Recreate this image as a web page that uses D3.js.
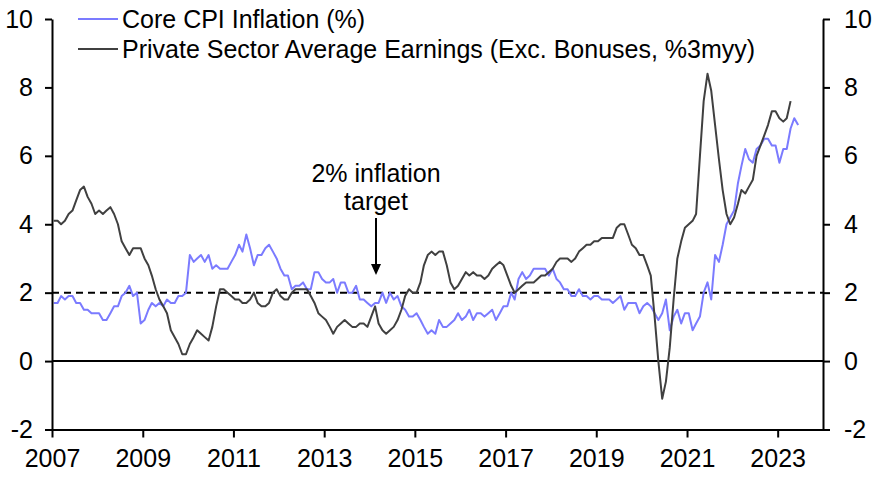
<!DOCTYPE html>
<html>
<head>
<meta charset="utf-8">
<script src="https://cdn.jsdelivr.net/npm/d3@7"></script>
<style>
  body { margin: 0; background: #fff; }
  text { font-family: "Liberation Sans", Arial, sans-serif; fill: #000; }
</style>
</head>
<body>
<div id="chart"></div>
<script>
// Monthly data, Jan 2007 onward
const startYear = 2007;
const coreCpi = [
  1.7, 1.7, 1.9, 1.8, 1.9, 1.9, 1.7, 1.7, 1.5, 1.5, 1.4, 1.4,
  1.4, 1.2, 1.2, 1.4, 1.6, 1.6, 1.9, 2.0, 2.2, 1.9, 2.0, 1.1,
  1.2, 1.5, 1.7, 1.6, 1.7, 1.6, 1.8, 1.7, 1.7, 1.9, 1.9, 2.0,
  3.1, 2.9, 3.0, 3.1, 2.9, 3.1, 2.7, 2.8, 2.7, 2.7, 2.7, 2.9,
  3.1, 3.4, 3.2, 3.7, 3.3, 2.8, 3.1, 3.1, 3.3, 3.4, 3.2, 3.0,
  2.7, 2.5, 2.5, 2.1, 2.2, 2.2, 2.3, 2.1, 2.1, 2.6, 2.6, 2.4,
  2.3, 2.3, 2.4, 2.0, 2.3, 2.3, 2.0, 2.0, 2.2, 1.8, 1.8, 1.7,
  1.6, 1.7, 1.7, 2.0, 1.7, 2.0, 1.8, 1.9, 1.6, 1.5, 1.3, 1.3,
  1.4, 1.2, 1.0, 0.8, 0.9, 0.8, 1.2, 1.0, 1.0, 1.1, 1.2, 1.4,
  1.2, 1.3, 1.5, 1.2, 1.4, 1.4, 1.3, 1.4, 1.5, 1.2, 1.4, 1.6,
  1.6, 2.0, 1.8, 2.4, 2.6, 2.4, 2.5, 2.7, 2.7, 2.7, 2.7, 2.5,
  2.7, 2.4, 2.3, 2.1, 2.1, 1.9, 1.9, 2.1, 1.9, 1.9, 1.8, 1.9,
  1.9, 1.8, 1.8, 1.8, 1.7, 1.8, 1.9, 1.5, 1.7, 1.7, 1.7, 1.4,
  1.6, 1.7, 1.6, 1.4, 1.2, 1.4, 1.8, 0.9, 1.3, 1.5, 1.1, 1.4,
  1.4, 0.9, 1.1, 1.3, 2.0, 2.3, 1.8, 3.1, 2.9, 3.4, 4.0, 4.2,
  4.4, 5.2, 5.7, 6.2, 5.9, 5.8, 6.2, 6.3, 6.5, 6.5, 6.3, 6.3,
  5.8, 6.2, 6.2, 6.8, 7.1, 6.9
];
const privatePay = [
  4.1, 4.1, 4.0, 4.1, 4.3, 4.4, 4.7, 5.0, 5.1, 4.8, 4.6, 4.3,
  4.4, 4.3, 4.4, 4.5, 4.3, 4.0, 3.5, 3.3, 3.1, 3.3, 3.3, 3.3,
  3.0, 2.8, 2.5, 2.1, 1.8, 1.6, 1.4, 0.9, 0.7, 0.5, 0.2, 0.2,
  0.5, 0.7, 0.9, 0.8, 0.7, 0.6, 1.0, 1.6, 2.1, 2.1, 2.0, 1.9,
  1.8, 1.8, 1.7, 1.7, 1.8, 2.0, 1.7, 1.6, 1.6, 1.7, 2.0, 2.1,
  1.9, 1.8, 1.8, 2.0, 2.1, 2.1, 2.1, 2.1, 1.9, 1.7, 1.4, 1.3,
  1.2, 1.0, 0.8, 1.0, 1.1, 1.2, 1.1, 1.0, 1.0, 1.1, 1.1, 1.0,
  1.3, 1.6, 1.1, 0.9, 0.8, 0.9, 1.0, 1.2, 1.5, 1.9, 2.1, 2.0,
  2.0, 2.3, 2.8, 3.1, 3.2, 3.1, 3.2, 3.2, 2.8, 2.3, 2.1, 2.2,
  2.4, 2.6, 2.5, 2.6, 2.5, 2.5, 2.4, 2.5, 2.7, 2.8, 2.9, 2.8,
  2.5, 2.2, 2.0, 2.1, 2.2, 2.3, 2.3, 2.3, 2.4, 2.5, 2.5, 2.6,
  2.7, 2.9, 3.0, 3.0, 3.0, 2.9, 3.0, 3.2, 3.3, 3.4, 3.4, 3.5,
  3.5, 3.6, 3.6, 3.6, 3.6, 3.9, 4.0, 4.0, 3.7, 3.4, 3.3, 3.1,
  3.1, 2.8, 2.5, 1.3, 0.0, -1.1, -0.6, 0.4, 1.8, 3.0, 3.5, 3.9,
  4.0, 4.1, 4.3, 6.0, 7.6, 8.4, 7.9, 6.9, 5.9, 5.0, 4.3, 4.0,
  4.2, 4.6, 5.0, 4.9, 5.1, 5.3, 6.0, 6.3, 6.6, 6.9, 7.3, 7.3,
  7.1, 7.0, 7.1, 7.6
];
const yTicks = [-2, 0, 2, 4, 6, 8, 10];
const xTickYears = [2007, 2009, 2011, 2013, 2015, 2017, 2019, 2021, 2023];
const seriesNames = ["Core CPI Inflation (%)", "Private Sector Average Earnings (Exc. Bonuses, %3myy)"];
const seriesColors = ["#7b7bff", "#404040"];
const targetLevel = 2;

const width = 876, height = 479;
const plotLeft = 52, plotRight = 823, plotTop = 19, plotBottom = 429.5;
const fontSize = 25;

const svg = d3.select("#chart").append("svg")
    .attr("width", width)
    .attr("height", height);

const x = d3.scaleTime()
    .domain([new Date(2007, 0, 1), new Date(2024, 0, 1)])
    .range([plotLeft, plotRight]);
const y = d3.scaleLinear().domain([-2, 10]).range([plotBottom, plotTop]);

const toPoints = vals => vals.map((v, i) => ({date: new Date(startYear, i, 15), value: v}));

// Zero line and 2% target line
svg.append("line")
    .attr("x1", plotLeft).attr("x2", plotRight)
    .attr("y1", y(0)).attr("y2", y(0))
    .attr("stroke", "#000").attr("stroke-width", 2);
svg.append("line")
    .attr("x1", plotLeft).attr("x2", plotRight)
    .attr("y1", y(targetLevel)).attr("y2", y(targetLevel))
    .attr("stroke", "#000").attr("stroke-width", 2)
    .attr("stroke-dasharray", "7,5");

const line = d3.line().x(d => x(d.date)).y(d => y(d.value));
[coreCpi, privatePay].forEach((vals, i) => {
    svg.append("path")
        .datum(toPoints(vals))
        .attr("fill", "none")
        .attr("stroke", seriesColors[i])
        .attr("stroke-width", 2)
        .attr("stroke-linejoin", "round")
        .attr("d", line);
});

// Axes (plain hyphen for negatives, as in the original)
const styleAxis = g => {
    g.selectAll(".domain").attr("stroke", "#000").attr("stroke-width", 2);
    g.selectAll(".tick line").attr("stroke", "#000").attr("stroke-width", 2);
    g.selectAll("text").attr("font-size", fontSize)
        .attr("font-family", "'Liberation Sans', Arial, sans-serif");
};
const numFmt = d => String(d);

svg.append("g")
    .attr("transform", `translate(${plotLeft},0)`)
    .call(d3.axisLeft(y).tickValues(yTicks).tickFormat(numFmt)
        .tickSize(7).tickPadding(12).tickSizeOuter(0))
    .call(styleAxis);

svg.append("g")
    .attr("transform", `translate(${plotRight},0)`)
    .call(d3.axisRight(y).tickValues(yTicks).tickFormat(numFmt)
        .tickSize(7).tickPadding(14).tickSizeOuter(0))
    .call(styleAxis);

svg.append("g")
    .attr("transform", `translate(0,${plotBottom})`)
    .call(d3.axisBottom(x)
        .tickValues(xTickYears.map(yr => new Date(yr, 0, 1)))
        .tickFormat(d3.timeFormat("%Y"))
        .tickSize(8).tickPadding(12).tickSizeOuter(0))
    .call(styleAxis);

// Legend
const legend = svg.append("g");
seriesNames.forEach((name, i) => {
    const ly = 19 + i * 30;
    legend.append("line")
        .attr("x1", 78).attr("x2", 118)
        .attr("y1", ly).attr("y2", ly)
        .attr("stroke", seriesColors[i]).attr("stroke-width", 2);
    legend.append("text")
        .attr("x", 122).attr("y", ly + 9)
        .attr("font-size", fontSize)
        .text(name);
});

// Annotation
const ann = svg.append("g");
ann.append("text").attr("x", 376).attr("y", 182)
    .attr("text-anchor", "middle").attr("font-size", fontSize).text("2% inflation");
ann.append("text").attr("x", 376).attr("y", 210)
    .attr("text-anchor", "middle").attr("font-size", fontSize).text("target");
ann.append("line")
    .attr("x1", 376).attr("x2", 376).attr("y1", 218).attr("y2", 266)
    .attr("stroke", "#000").attr("stroke-width", 2);
ann.append("path")
    .attr("d", "M371,264 L381,264 L376,275 Z")
    .attr("fill", "#000");
</script>
</body>
</html>
